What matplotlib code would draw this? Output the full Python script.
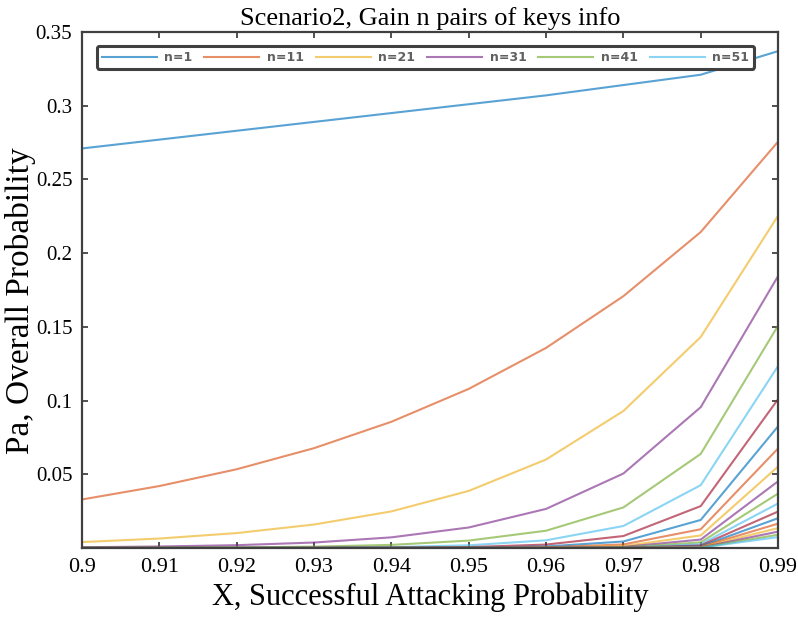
import numpy as np
import matplotlib
matplotlib.use('Agg')
import matplotlib.pyplot as plt

# attacking probability X on the horizontal axis
x_vals = [0.90, 0.91, 0.92, 0.93, 0.94, 0.95, 0.96, 0.97, 0.98, 0.99]

# number of key pairs gained, one curve each
n_vals = [1, 11, 21, 31, 41, 51, 61, 71, 81, 91,
          101, 111, 121, 131, 141, 151, 161, 171, 181, 191]

# overall probability Pa for each n (rows) at each X (columns)
pa_vals = [
    [0.271, 0.277, 0.283, 0.289, 0.295, 0.301, 0.307, 0.314, 0.321, 0.337],
    [0.0329, 0.0420, 0.0534, 0.0677, 0.0856, 0.1079, 0.1357, 0.1708, 0.2143, 0.2756],
    [0.0040, 0.0064, 0.0101, 0.0159, 0.0248, 0.0387, 0.0600, 0.0929, 0.1431, 0.2254],
    [0.0005, 0.0010, 0.0019, 0.0037, 0.0072, 0.0139, 0.0265, 0.0505, 0.0955, 0.1844],
    [0.0001, 0.0002, 0.0004, 0.0009, 0.0021, 0.0050, 0.0117, 0.0275, 0.0638, 0.1508],
    [0.0, 0.0, 0.0001, 0.0002, 0.0006, 0.0018, 0.0052, 0.0149, 0.0426, 0.1234],
    [0.0, 0.0, 0.0, 0.0001, 0.0002, 0.0006, 0.0023, 0.0081, 0.0284, 0.1009],
    [0.0, 0.0, 0.0, 0.0, 0.0001, 0.0002, 0.0010, 0.0044, 0.0190, 0.0825],
    [0.0, 0.0, 0.0, 0.0, 0.0, 0.0001, 0.0004, 0.0024, 0.0127, 0.0675],
    [0.0, 0.0, 0.0, 0.0, 0.0, 0.0, 0.0002, 0.0013, 0.0085, 0.0552],
    [0.0, 0.0, 0.0, 0.0, 0.0, 0.0, 0.0001, 0.0007, 0.0057, 0.0452],
    [0.0, 0.0, 0.0, 0.0, 0.0, 0.0, 0.0, 0.0004, 0.0038, 0.0369],
    [0.0, 0.0, 0.0, 0.0, 0.0, 0.0, 0.0, 0.0002, 0.0025, 0.0302],
    [0.0, 0.0, 0.0, 0.0, 0.0, 0.0, 0.0, 0.0001, 0.0017, 0.0247],
    [0.0, 0.0, 0.0, 0.0, 0.0, 0.0, 0.0, 0.0, 0.0011, 0.0202],
    [0.0, 0.0, 0.0, 0.0, 0.0, 0.0, 0.0, 0.0, 0.0008, 0.0165],
    [0.0, 0.0, 0.0, 0.0, 0.0, 0.0, 0.0, 0.0, 0.0005, 0.0135],
    [0.0, 0.0, 0.0, 0.0, 0.0, 0.0, 0.0, 0.0, 0.0003, 0.0111],
    [0.0, 0.0, 0.0, 0.0, 0.0, 0.0, 0.0, 0.0, 0.0002, 0.0090],
    [0.0, 0.0, 0.0, 0.0, 0.0, 0.0, 0.0, 0.0, 0.0002, 0.0074],
]

x_ticks = [0.90, 0.91, 0.92, 0.93, 0.94, 0.95, 0.96, 0.97, 0.98, 0.99]
x_tick_labels = ['0.9', '0.91', '0.92', '0.93', '0.94', '0.95', '0.96', '0.97', '0.98', '0.99']
y_ticks = [0.05, 0.10, 0.15, 0.20, 0.25, 0.30, 0.35]
y_tick_labels = ['0.05', '0.1', '0.15', '0.2', '0.25', '0.3', '0.35']

# MATLAB default line colour order
colors = ['#0072BD', '#D95319', '#EDB120', '#7E2F8E', '#77AC30', '#4DBEEE', '#A2142F']

serif = 'Liberation Serif'

fig = plt.figure(figsize=(7.98, 6.21), dpi=100)
ax = fig.add_axes([0.1028, 0.1176, 0.8722, 0.8309])

for i, (n, pa) in enumerate(zip(n_vals, pa_vals)):
    ax.plot(x_vals, pa, color=colors[i % len(colors)], lw=1.5, alpha=0.65,
            label='n=%d' % n)

ax.set_xlim(0.90, 0.99)
ax.set_ylim(0, 0.35)
ax.set_xticks(x_ticks)
ax.set_xticklabels(x_tick_labels, family=serif, fontsize=16)
ax.set_yticks(y_ticks)
ax.set_yticklabels(y_tick_labels, family=serif, fontsize=15)
ax.tick_params(direction='in', top=True, right=True, length=4, width=1.2,
               color='#333333', pad=7)
for sp in ax.spines.values():
    sp.set_color('#404040')
    sp.set_linewidth(1.6)

ax.set_title('Scenario2, Gain n pairs of keys info', family=serif, fontsize=19, pad=5)
ax.set_xlabel('X, Successful Attacking Probability', family=serif, fontsize=22, labelpad=4)
ax.set_ylabel('Pa, Overall Probability', family=serif, fontsize=24)
ax.yaxis.set_label_coords(-0.066, 0.48)

# legend only lists the first six curves
handles, labels = ax.get_legend_handles_labels()
leg = ax.legend(handles[:6], labels[:6], loc='upper left', ncol=6,
                bbox_to_anchor=(0.012, 0.985), handlelength=4.4,
                columnspacing=0.95, handletextpad=0.6, borderpad=0.4,
                fancybox=True, framealpha=1, edgecolor='#404040',
                prop={'family': 'DejaVu Sans', 'size': 9, 'weight': 'bold'})
leg.get_frame().set_linewidth(2.2)
for t in leg.get_texts():
    t.set_color('#606060')

fig.savefig('out.png', dpi=100)
